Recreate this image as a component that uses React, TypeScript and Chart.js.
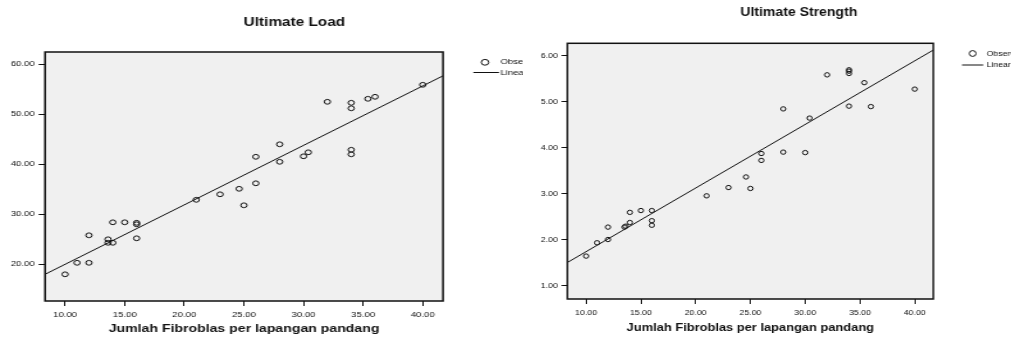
import React, { useEffect, useRef } from 'react';
import { Chart, registerables } from 'chart.js';

Chart.register(...registerables);

const FONT = '"Liberation Sans", Arial, Helvetica, sans-serif';
const INK = '#111111';

// ---------- data ----------
const xTickValues = [10, 15, 20, 25, 30, 35, 40];
const legendLabels = ['Observed', 'Linear'];
const xAxisTitle = 'Jumlah Fibroblas per lapangan pandang';

const loadTitle = 'Ultimate Load';
const loadFibroblas = [10, 11, 12, 12, 13.6, 13.6, 14, 14, 15, 16, 16, 16, 21, 23, 24.6, 25, 26, 26, 28, 28, 30, 30.4, 32, 34, 34, 34, 34, 35.4, 36, 40];
const loadValues = [18.0, 20.3, 20.3, 25.8, 25.0, 24.3, 24.3, 28.4, 28.4, 28.3, 28.0, 25.2, 32.9, 34.0, 35.1, 31.8, 41.5, 36.2, 44.0, 40.5, 41.6, 42.4, 52.5, 52.3, 51.2, 42.9, 42.0, 53.1, 53.5, 55.9];
const loadFitX = [8.32, 41.7];
const loadFitY = [18.0, 57.7];
const loadYTicks = [20, 30, 40, 50, 60];

const strengthTitle = 'Ultimate Strength';
const strengthFibroblas = [10, 11, 12, 12, 13.5, 13.6, 14, 14, 15, 16, 16, 16, 21, 23, 24.6, 25, 26, 26, 28, 28, 30, 30.4, 32, 34, 34, 34, 34, 35.4, 36, 40];
const strengthValues = [1.65, 1.94, 2.01, 2.28, 2.28, 2.30, 2.38, 2.60, 2.64, 2.64, 2.42, 2.32, 2.96, 3.14, 3.37, 3.12, 3.88, 3.73, 4.85, 3.91, 3.90, 4.65, 5.59, 5.70, 5.67, 5.62, 4.91, 5.42, 4.90, 5.28];
const strengthFitX = [8.29, 41.7];
const strengthFitY = [1.51, 6.13];
const strengthYTicks = [1, 2, 3, 4, 5, 6];

// ---------- layout (not data) ----------
type Geom = {
  left: number; clipW: number; canvasW: number; stretch: number;
  plotLeft: number; padRight: number; titleTop: number; titleBottom: number;
  xAxisH: number; axisTitleBottom: number; r: number;
  lg: { cx: number; cy: number; r: number; lx1: number; lx2: number; ly: number; tx: number };
};

type Spec = {
  title: string; xs: number[]; ys: number[]; fitX: number[]; fitY: number[];
  xMin: number; xMax: number; yMin: number; yMax: number; yTicks: number[]; geom: Geom;
};

const loadSpec: Spec = {
  title: loadTitle, xs: loadFibroblas, ys: loadValues, fitX: loadFitX, fitY: loadFitY,
  xMin: 8.32, xMax: 41.7, yMin: 12.66, yMax: 62.46, yTicks: loadYTicks,
  geom: {
    left: 0, clipW: 523, canvasW: 460, stretch: 1.28,
    plotLeft: 35.2, padRight: 113.9, titleTop: 15.5, titleBottom: 22.1,
    xAxisH: 39, axisTitleBottom: 4, r: 2.4,
    lg: { cx: 32.8, cy: 10.3, r: 2.9, lx1: 23.7, lx2: 43.7, ly: 20.5, tx: 44.8 },
  },
};

const strengthSpec: Spec = {
  title: strengthTitle, xs: strengthFibroblas, ys: strengthValues, fitX: strengthFitX, fitY: strengthFitY,
  xMin: 8.29, xMax: 41.7, yMin: 0.717, yMax: 6.276, yTicks: strengthYTicks,
  geom: {
    left: 525, clipW: 486, canvasW: 468, stretch: 1.17,
    plotLeft: 36.2, padRight: 119, titleTop: 5.6, titleBottom: 23.3,
    xAxisH: 41, axisTitleBottom: 5.7, r: 2.2,
    lg: { cx: 33.6, cy: 10.2, r: 2.9, lx1: 24.5, lx2: 42.7, ly: 21.7, tx: 45.4 },
  },
};

// ---------- plugin: plot background, frame and side legend ----------
const framePlugin = {
  id: 'spssFrame',
  beforeDraw(chart: any) {
    const { ctx, chartArea: a } = chart;
    ctx.save();
    ctx.fillStyle = '#f0f0f0';
    ctx.fillRect(a.left, a.top, a.right - a.left, a.bottom - a.top);
    ctx.restore();
  },
  afterDraw(chart: any, _args: any, opts: any) {
    const { ctx, chartArea: a } = chart;
    ctx.save();
    ctx.strokeStyle = INK;
    ctx.lineWidth = 1.5;
    ctx.strokeRect(a.left, a.top, a.right - a.left, a.bottom - a.top);

    const lg = opts.lg;
    const cx = a.right + lg.cx;
    const cy = a.top + lg.cy;
    const ly = a.top + lg.ly;
    ctx.lineWidth = 1;
    ctx.beginPath();
    ctx.arc(cx, cy, lg.r, 0, Math.PI * 2);
    ctx.stroke();
    ctx.beginPath();
    ctx.moveTo(a.right + lg.lx1, ly);
    ctx.lineTo(a.right + lg.lx2, ly);
    ctx.stroke();
    ctx.fillStyle = INK;
    ctx.font = `7.5px ${FONT}`;
    ctx.textAlign = 'left';
    ctx.textBaseline = 'middle';
    ctx.fillText(opts.labels[0], a.right + lg.tx, cy);
    ctx.fillText(opts.labels[1], a.right + lg.tx, ly);
    ctx.restore();
  },
};

function makeConfig(p: Spec): any {
  const g = p.geom;
  const points = p.xs.map((x, i) => ({ x, y: p.ys[i] }));
  const fit = p.fitX.map((x, i) => ({ x, y: p.fitY[i] }));
  const tickFont = { family: FONT, size: 7.5 };
  return {
    type: 'scatter',
    data: {
      datasets: [
        {
          label: legendLabels[0], data: points, showLine: false, pointStyle: 'circle',
          pointRadius: g.r, pointHoverRadius: g.r, pointBorderWidth: 1,
          borderColor: INK, backgroundColor: 'rgba(0,0,0,0)', order: 2,
        },
        {
          label: legendLabels[1], data: fit, showLine: true, pointRadius: 0,
          borderColor: INK, borderWidth: 1, backgroundColor: INK, order: 1,
        },
      ],
    },
    options: {
      responsive: false,
      animation: false,
      devicePixelRatio: 1,
      events: [],
      layout: { padding: 0 },
      plugins: {
        legend: { display: false },
        tooltip: { enabled: false },
        title: {
          display: true, text: p.title, color: INK,
          font: { family: FONT, size: 12, weight: 'bold' },
          padding: { top: g.titleTop, bottom: g.titleBottom },
        },
        spssFrame: { lg: g.lg, labels: legendLabels },
      },
      scales: {
        x: {
          type: 'linear', position: 'bottom', min: p.xMin, max: p.xMax,
          afterBuildTicks: (s: any) => { s.ticks = xTickValues.map((v) => ({ value: v })); },
          afterFit: (s: any) => { s.height = g.xAxisH; },
          grid: { display: true, drawOnChartArea: false, drawTicks: true, tickLength: 5, tickColor: INK, tickWidth: 1 },
          border: { display: false },
          ticks: {
            autoSkip: false, maxRotation: 0, minRotation: 0, padding: 4, color: INK, font: tickFont,
            callback: (v: any) => Number(v).toFixed(2),
          },
          title: {
            display: true, text: xAxisTitle, color: INK,
            font: { family: FONT, size: 11, weight: 'bold' },
            padding: { top: 0, bottom: g.axisTitleBottom },
          },
        },
        y: {
          type: 'linear', position: 'left', min: p.yMin, max: p.yMax,
          afterBuildTicks: (s: any) => { s.ticks = p.yTicks.map((v) => ({ value: v })); },
          afterFit: (s: any) => { s.width = g.plotLeft; },
          grid: { display: true, drawOnChartArea: false, drawTicks: true, tickLength: 5, tickColor: INK, tickWidth: 1 },
          border: { display: false },
          ticks: {
            autoSkip: false, padding: 3, color: INK, font: tickFont,
            callback: (v: any) => Number(v).toFixed(2),
          },
        },
        pad: {
          type: 'linear', axis: 'y', position: 'right', display: true,
          grid: { display: false }, ticks: { display: false }, border: { display: false },
          afterFit: (s: any) => { s.width = g.padRight; },
        },
      },
    },
    plugins: [framePlugin],
  };
}

function Panel({ spec }: { spec: Spec }) {
  const ref = useRef<HTMLCanvasElement>(null);
  useEffect(() => {
    if (!ref.current) return;
    const chart = new Chart(ref.current, makeConfig(spec));
    return () => chart.destroy();
  }, [spec]);
  const g = spec.geom;
  return (
    <div style={{ position: 'absolute', left: g.left, top: 0, width: g.clipW, height: 340, overflow: 'hidden' }}>
      <div style={{ width: g.canvasW, height: 340, transform: `scaleX(${g.stretch})`, transformOrigin: '0 0' }}>
        <canvas ref={ref} width={g.canvasW} height={340} style={{ display: 'block' }} />
      </div>
    </div>
  );
}

export default function App() {
  return (
    <div style={{ position: 'fixed', left: 0, top: 0, width: 1011, height: 340, overflow: 'hidden', background: '#ffffff' }}>
      <Panel spec={loadSpec} />
      <Panel spec={strengthSpec} />
    </div>
  );
}
